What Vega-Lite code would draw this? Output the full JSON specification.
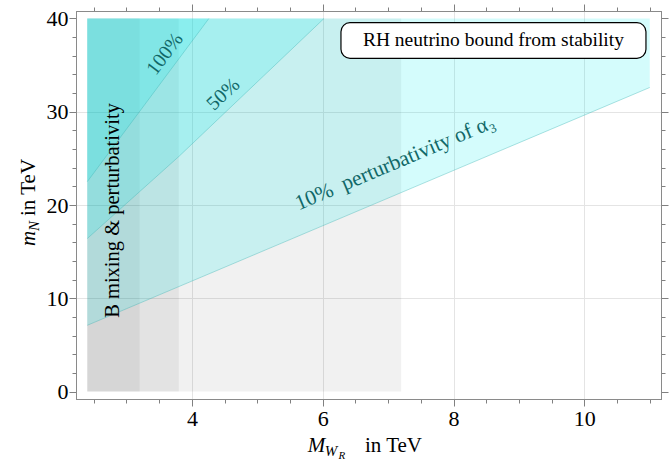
{
  "$schema": "https://vega.github.io/schema/vega-lite/v6.json",
  "width": 585,
  "height": 388,
  "autosize": {"type": "none"},
  "padding": {"left": 76, "top": 11, "right": 9, "bottom": 67},
  "background": "white",
  "config": {
    "view": {"stroke": "#8a8a8a", "strokeWidth": 1},
    "font": "Liberation Serif",
    "text": {"font": "Liberation Serif"},
    "axis": {
      "title": null,
      "labelFont": "Liberation Serif",
      "labelFontSize": 22,
      "labelColor": "#000000",
      "domainColor": "#8a8a8a",
      "tickColor": "#808080",
      "gridColor": "#e4e4e4",
      "labelFlush": false,
      "labelOverlap": false
    }
  },
  "datasets": {
    "gray": [
      {"x": 2.4, "x2": 7.2},
      {"x": 2.4, "x2": 3.8},
      {"x": 2.4, "x2": 3.2}
    ],
    "bands": [
      {"band": "10%", "x": 2.4, "lo": 7.1, "hi": 40},
      {"band": "10%", "x": 11.0, "lo": 32.6, "hi": 40},
      {"band": "50%", "x": 2.4, "lo": 16.4, "hi": 40},
      {"band": "50%", "x": 3.8, "lo": 25.2, "hi": 40},
      {"band": "50%", "x": 6.02, "lo": 40, "hi": 40},
      {"band": "100%", "x": 2.4, "lo": 22.5, "hi": 40},
      {"band": "100%", "x": 4.26, "lo": 40, "hi": 40}
    ],
    "one": [{}]
  },
  "resolve": {"axis": {"x": "independent", "y": "independent"}},
  "layer": [
    {
      "data": {"name": "gray"},
      "mark": {"type": "rect", "fill": "#000000", "opacity": 0.056},
      "encoding": {
        "x": {
          "field": "x", "type": "quantitative",
          "scale": {"domain": [2.228, 11.172], "nice": false, "zero": false},
          "axis": {"orient": "bottom", "values": [4, 6, 8, 10], "tickSize": 7, "labelPadding": 2, "grid": false}
        },
        "x2": {"field": "x2"},
        "y": {
          "datum": 0, "type": "quantitative",
          "scale": {"domain": [-0.8, 40.8], "nice": false, "zero": false},
          "axis": {"orient": "left", "values": [0, 10, 20, 30, 40], "tickSize": 7, "labelPadding": 1, "grid": false}
        },
        "y2": {"datum": 40}
      }
    },
    {
      "data": {"name": "bands"},
      "mark": {"type": "area", "fill": "#00eeee", "opacity": 0.17},
      "encoding": {
        "x": {
          "field": "x", "type": "quantitative",
          "axis": {"orient": "bottom", "values": [2.5, 3, 3.5, 4.5, 5, 5.5, 6.5, 7, 7.5, 8.5, 9, 9.5, 10.5, 11], "tickSize": 4, "labels": false, "grid": false}
        },
        "y": {
          "field": "lo", "type": "quantitative", "stack": null,
          "axis": {"orient": "left", "values": [2, 4, 6, 8, 12, 14, 16, 18, 22, 24, 26, 28, 32, 34, 36, 38], "tickSize": 4, "labels": false, "grid": false}
        },
        "y2": {"field": "hi"},
        "detail": {"field": "band"}
      }
    },
    {
      "data": {"name": "bands"},
      "mark": {"type": "line", "stroke": "#3fb5b5", "strokeWidth": 1, "opacity": 0.4},
      "encoding": {
        "x": {
          "field": "x", "type": "quantitative",
          "axis": {"orient": "top", "values": [4, 6, 8, 10], "tickSize": 7, "labels": false, "grid": false}
        },
        "y": {
          "field": "lo", "type": "quantitative",
          "axis": {"orient": "right", "values": [0, 10, 20, 30, 40], "tickSize": 7, "labels": false, "grid": false}
        },
        "detail": {"field": "band"}
      }
    },
    {
      "data": {"name": "one"},
      "mark": {"type": "text", "text": "100%", "font": "Liberation Serif", "fontSize": 20, "color": "#116868", "angle": 307, "align": "center", "baseline": "middle"},
      "encoding": {
        "x": {
          "datum": 3.589, "type": "quantitative",
          "axis": {"orient": "top", "values": [2.5, 3, 3.5, 4.5, 5, 5.5, 6.5, 7, 7.5, 8.5, 9, 9.5, 10.5, 11], "tickSize": 4, "labels": false, "grid": false}
        },
        "y": {
          "datum": 36.19, "type": "quantitative",
          "axis": {"orient": "right", "values": [2, 4, 6, 8, 12, 14, 16, 18, 22, 24, 26, 28, 32, 34, 36, 38], "tickSize": 4, "labels": false, "grid": false}
        }
      }
    },
    {
      "data": {"name": "one"},
      "mark": {"type": "text", "text": "50%", "font": "Liberation Serif", "fontSize": 20, "color": "#116868", "angle": 316.6, "align": "center", "baseline": "middle"},
      "encoding": {
        "x": {
          "datum": 4.48, "type": "quantitative",
          "axis": {"orient": "bottom", "values": [4, 6, 8, 10], "ticks": false, "labels": false, "domain": false, "grid": true}
        },
        "y": {
          "datum": 31.88, "type": "quantitative",
          "axis": {"orient": "left", "values": [10, 20, 30], "ticks": false, "labels": false, "domain": false, "grid": true}
        }
      }
    },
    {
      "data": {"name": "one"},
      "mark": {"type": "text", "text": "10%\u00a0 perturbativity of α\u2083", "font": "Liberation Serif", "fontSize": 21.5, "color": "#116868", "angle": 337.1, "align": "center", "baseline": "alphabetic"},
      "encoding": {
        "x": {"datum": 7.143, "type": "quantitative", "axis": null},
        "y": {"datum": 23.9, "type": "quantitative", "axis": null}
      }
    },
    {
      "data": {"name": "one"},
      "mark": {"type": "text", "text": "B mixing & perturbativity", "font": "Liberation Serif", "fontSize": 20.5, "color": "#000000", "angle": 270, "align": "center", "baseline": "middle"},
      "encoding": {
        "x": {"datum": 2.8, "type": "quantitative", "axis": null},
        "y": {"datum": 19.41, "type": "quantitative", "axis": null}
      }
    },
    {
      "data": {"name": "one"},
      "mark": {"type": "rect", "fill": "#ffffff", "stroke": "#000000", "strokeWidth": 1.2, "cornerRadius": 9},
      "encoding": {
        "x": {"datum": 6.279, "type": "quantitative", "axis": null},
        "x2": {"datum": 10.942},
        "y": {"datum": 39.545, "type": "quantitative", "axis": null},
        "y2": {"datum": 35.73}
      }
    },
    {
      "data": {"name": "one"},
      "mark": {"type": "text", "text": "RH neutrino bound from stability", "font": "Liberation Serif", "fontSize": 19.5, "color": "#000000", "align": "center", "baseline": "middle"},
      "encoding": {
        "x": {"datum": 8.61, "type": "quantitative", "axis": null},
        "y": {"datum": 37.64, "type": "quantitative", "axis": null}
      }
    },
    {
      "data": {"name": "one"},
      "mark": {"type": "text", "text": "M", "font": "Liberation Serif", "fontStyle": "italic", "fontSize": 21, "color": "#000000", "align": "left", "baseline": "alphabetic"},
      "encoding": {
        "x": {"datum": 5.77, "type": "quantitative", "axis": null},
        "y": {"datum": -6.48, "type": "quantitative", "axis": null}
      }
    },
    {
      "data": {"name": "one"},
      "mark": {"type": "text", "text": "W", "font": "Liberation Serif", "fontStyle": "italic", "fontSize": 15, "color": "#000000", "align": "left", "baseline": "alphabetic"},
      "encoding": {
        "x": {"datum": 6.03, "type": "quantitative", "axis": null},
        "y": {"datum": -6.91, "type": "quantitative", "axis": null}
      }
    },
    {
      "data": {"name": "one"},
      "mark": {"type": "text", "text": "R", "font": "Liberation Serif", "fontStyle": "italic", "fontSize": 11, "color": "#000000", "align": "left", "baseline": "alphabetic"},
      "encoding": {
        "x": {"datum": 6.24, "type": "quantitative", "axis": null},
        "y": {"datum": -7.23, "type": "quantitative", "axis": null}
      }
    },
    {
      "data": {"name": "one"},
      "mark": {"type": "text", "text": "in TeV", "font": "Liberation Serif", "fontSize": 21, "color": "#000000", "align": "left", "baseline": "alphabetic"},
      "encoding": {
        "x": {"datum": 6.646, "type": "quantitative", "axis": null},
        "y": {"datum": -6.48, "type": "quantitative", "axis": null}
      }
    },
    {
      "data": {"name": "one"},
      "mark": {"type": "text", "text": "m", "font": "Liberation Serif", "fontStyle": "italic", "fontSize": 21, "color": "#000000", "angle": 270, "align": "left", "baseline": "alphabetic"},
      "encoding": {
        "x": {"datum": 1.601, "type": "quantitative", "axis": null},
        "y": {"datum": 15.6, "type": "quantitative", "axis": null}
      }
    },
    {
      "data": {"name": "one"},
      "mark": {"type": "text", "text": "N", "font": "Liberation Serif", "fontStyle": "italic", "fontSize": 15, "color": "#000000", "angle": 270, "align": "left", "baseline": "alphabetic"},
      "encoding": {
        "x": {"datum": 1.662, "type": "quantitative", "axis": null},
        "y": {"datum": 17.21, "type": "quantitative", "axis": null}
      }
    },
    {
      "data": {"name": "one"},
      "mark": {"type": "text", "text": "in TeV", "font": "Liberation Serif", "fontSize": 21, "color": "#000000", "angle": 270, "align": "left", "baseline": "alphabetic"},
      "encoding": {
        "x": {"datum": 1.601, "type": "quantitative", "axis": null},
        "y": {"datum": 18.82, "type": "quantitative", "axis": null}
      }
    }
  ]
}
